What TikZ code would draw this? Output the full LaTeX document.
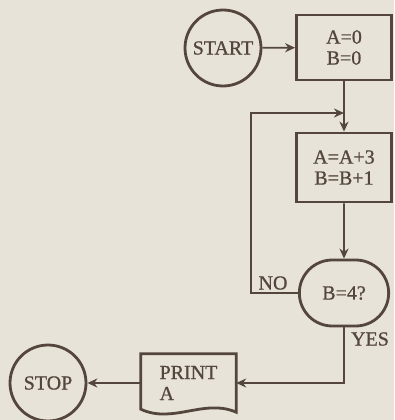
\documentclass[tikz,border=0pt]{standalone}
\usepackage{fontspec}
\setmainfont{Liberation Serif}
\newfontfamily\chartfont[FakeBold=0.8]{Liberation Serif}
\usetikzlibrary{arrows.meta,shapes.misc}
\definecolor{paper}{RGB}{231,227,217}
\definecolor{ink}{RGB}{84,70,60}
\begin{document}
\begin{tikzpicture}[x=1pt, y=-1pt, >={Stealth[length=10pt,width=9pt]},
  every node/.style={font=\chartfont\fontsize{20}{21}\selectfont, text=ink},
  flow/.style={draw=ink, line width=2.8pt, align=center},
  term/.style={flow, circle, minimum size=76pt, inner sep=0pt},
  proc/.style={flow, rectangle, minimum width=95pt},
  link/.style={draw=ink, line width=1.7pt}]
\fill[paper] (0,0) rectangle (394,420);
\useasboundingbox (0,0) rectangle (394,420);
% boxes
\node[term] (start) at (223,48) {START};
\node[proc, minimum height=65pt] (init) at (344,47.5) {A=0\\B=0};
\node[proc, minimum height=69pt] (loop) at (344,167.5) {A=A+3\\B=B+1};
\node[flow, rounded rectangle, minimum width=96pt, minimum height=66pt] (test) at (344,293) {B=4?};
\node[align=left, minimum width=95pt, minimum height=58pt, inner sep=0pt] (print) at (188.5,383) {PRINT\\A};
\draw[flow] (print.north west) -- (print.north east) -- (print.south east)
  .. controls ([xshift=-32pt,yshift=14pt]print.south east) and ([xshift=32pt,yshift=-12pt]print.south west)
  .. ([yshift=3pt]print.south west) -- cycle;
\node[term] (stop) at (48,383) {STOP};
\node (no) at (273,283) {NO};
\node (yes) at (370,339) {YES};
\coordinate (join) at (344,113);
% connectors
\draw[link, ->] (start) -- (init);
\draw[link, ->] (init) -- (loop);
\draw[link, ->] (loop) -- (test);
\draw[link, ->] (test.west) -- ++(-47,0) |- (join);
\draw[link, ->] (test.south) |- (print.east);
\draw[link, ->] (print.west) -- (stop);
\end{tikzpicture}
\end{document}
